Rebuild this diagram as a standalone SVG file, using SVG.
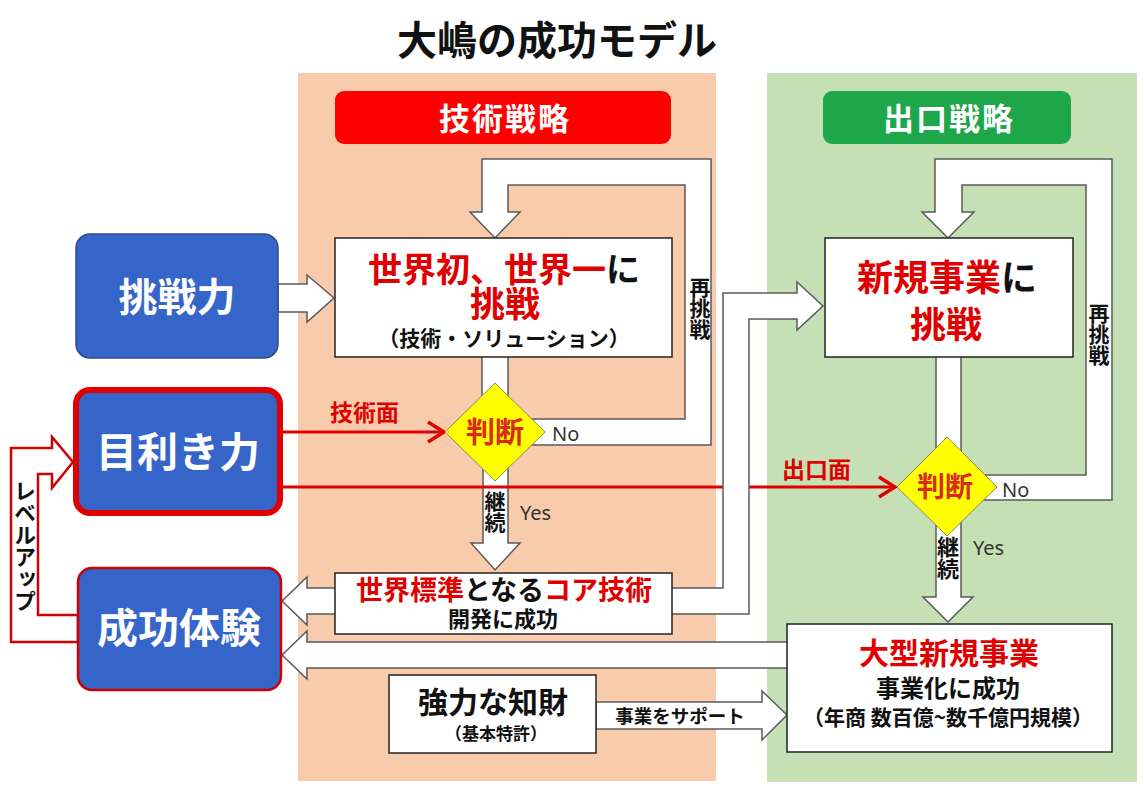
<svg xmlns="http://www.w3.org/2000/svg" width="1144" height="792" viewBox="0 0 1144 792">
<defs>
<style>
.t{font-family:"Noto Sans CJK JP","Noto Sans",sans-serif;font-weight:bold;}
.lat{font-family:"Noto Sans","Liberation Sans",sans-serif;font-weight:normal;fill:#333;font-size:20px;}
.red{fill:#E00000;}
.blk{fill:#111;}
.wh{fill:#fff;}
.box{fill:#fff;stroke:#222;stroke-width:1.5;}
.barrow{fill:#fff;stroke:#5a5a5a;stroke-width:1.5;stroke-linejoin:miter;}
.blue{fill:#3565C8;}
.dia{fill:#FFFF00;stroke:#8a8a5a;stroke-width:1;}
.rline{stroke:#E00000;stroke-width:3;fill:none;}
.vert{writing-mode:vertical-rl;text-orientation:upright;}
</style>
<marker id="rv" viewBox="0 0 20 24" markerWidth="20" markerHeight="24" refX="18" refY="12" orient="auto" markerUnits="userSpaceOnUse">
<path d="M2,2 L18,12 L2,22" fill="none" stroke="#E00000" stroke-width="3.5"/>
</marker>
</defs>
<rect width="1144" height="792" fill="#fff"/>

<!-- title -->
<text class="t blk" x="557" y="55" font-size="40" text-anchor="middle">大嶋の成功モデル</text>

<!-- panels -->
<g id="panel-tech">
<rect x="298" y="73" width="418" height="708" fill="#F8CBAD"/>
<rect x="335" y="91" width="336" height="53" rx="9" fill="#FF0000"/>
<text class="t wh" x="505" y="130" font-size="31" text-anchor="middle" letter-spacing="2">技術戦略</text>
</g>
<g id="panel-exit">
<rect x="767" y="73" width="370" height="709" fill="#C5E0B4"/>
<rect x="823" y="91" width="248" height="53" rx="9" fill="#1DA64A"/>
<text class="t wh" x="949" y="130" font-size="31" text-anchor="middle" letter-spacing="2">出口戦略</text>
</g>

<!-- connectors -->
<g id="connectors">
<polygon class="barrow" points="520,419 685,419 685,185 508,185 508,212 520,212 495,238 470,212 482,212 482,159 711,159 711,445 520,445"/>
<rect class="barrow" x="482" y="352" width="26" height="50"/>
<polygon class="barrow" points="970,475 1086,475 1086,185 962,185 962,212 974,212 948,238 922,212 935,212 935,159 1112,159 1112,500 970,500"/>
<rect class="barrow" x="936" y="352" width="25" height="102"/>
<polygon class="barrow" points="278,284 307,284 307,275 334,298 307,322 307,312 278,312"/>
<polygon class="barrow" points="483,460 508,460 508,543 520,543 495,570 471,543 483,543"/>
<polygon class="barrow" points="936,518 961,518 961,597 973,597 948,622 923,597 936,597"/>
<line class="rline" x1="283" y1="432" x2="444" y2="432" marker-end="url(#rv)"/>
<line class="rline" x1="283" y1="487" x2="895" y2="487" marker-end="url(#rv)"/>
<polygon class="barrow" points="671,588 723,588 723,293 797,293 797,282 823,306 797,330 797,319 749,319 749,614 671,614"/>
<polygon class="barrow" points="336,588 307,588 307,577 282,601 307,625 307,614 336,614"/>
<polygon class="barrow" points="788,642 307,642 307,631 282,655 307,679 307,668 788,668"/>
<polygon class="barrow" points="596,702 762,702 762,691 787,715 762,740 762,729 596,729"/>
<polygon points="78,642 11,642 11,448 52,448 52,437 73,462 52,488 52,474 38,474 38,615 78,615" fill="#fff" stroke="#D00000" stroke-width="2.5"/>
</g>

<!-- connector labels -->
<text class="t blk vert" x="700" y="277" font-size="21">再挑戦</text>
<text class="t blk vert" x="1099" y="303" font-size="21">再挑戦</text>
<text class="t blk vert" x="495" y="491" font-size="21">継続</text>
<text class="t blk vert" x="948" y="536" font-size="22">継続</text>
<text class="t blk vert" x="25" y="480" font-size="22" font-weight="normal">レベルアップ</text>
<text class="lat" x="552" y="441">No</text>
<text class="lat" x="1002" y="497">No</text>
<text class="lat" x="520" y="520">Yes</text>
<text class="lat" x="973" y="555">Yes</text>
<text class="t red" x="330" y="421" font-size="23">技術面</text>
<text class="t red" x="782" y="478" font-size="23">出口面</text>
<text class="t blk" x="680" y="723" font-size="18.5" text-anchor="middle">事業をサポート</text>

<!-- left nodes -->
<g id="challenge">
<rect class="blue" x="76" y="234" width="202" height="124" rx="14" stroke="#2B4B8C" stroke-width="1.5"/>
<text class="t wh" x="177" y="311" font-size="39" text-anchor="middle">挑戦力</text>
</g>
<g id="insight">
<rect class="blue" x="76" y="390" width="204" height="123" rx="14" stroke="#E00000" stroke-width="6"/>
<text class="t wh" x="178" y="467" font-size="41" text-anchor="middle">目利き力</text>
</g>
<g id="success">
<rect class="blue" x="78" y="568" width="203" height="122" rx="14" stroke="#D00000" stroke-width="2.5"/>
<text class="t wh" x="179" y="643" font-size="41" text-anchor="middle">成功体験</text>
</g>

<!-- tech nodes -->
<g id="world-first">
<rect class="box" x="335" y="238" width="337" height="119"/>
<text class="t" x="504" y="282" font-size="34" text-anchor="middle"><tspan class="red">世界初、世界一</tspan><tspan class="blk">に</tspan></text>
<text class="t red" x="505" y="317" font-size="35" text-anchor="middle">挑戦</text>
<text class="t blk" x="504" y="346" font-size="21" text-anchor="middle">（技術・ソリューション）</text>
</g>
<g id="judge-tech">
<polygon class="dia" points="495,383 545,432 495,481 445,432"/>
<text class="t" x="495" y="443" font-size="29" text-anchor="middle" fill="#D92B1C">判断</text>
</g>
<g id="core-tech">
<rect class="box" x="335" y="573" width="337" height="61"/>
<text class="t" x="504" y="600" font-size="27" text-anchor="middle"><tspan class="red">世界標準</tspan><tspan class="blk">となる</tspan><tspan class="red">コア技術</tspan></text>
<text class="t blk" x="503" y="627" font-size="22" text-anchor="middle">開発に成功</text>
</g>
<g id="ip">
<rect class="box" x="389" y="675" width="207" height="78"/>
<text class="t blk" x="493" y="713" font-size="30" text-anchor="middle">強力な知財</text>
<text class="t blk" x="496" y="740" font-size="17" text-anchor="middle">（基本特許）</text>
</g>

<!-- exit nodes -->
<g id="new-business">
<rect class="box" x="825" y="238" width="248" height="119"/>
<text class="t" x="947" y="291" font-size="36" text-anchor="middle"><tspan class="red">新規事業</tspan><tspan class="blk">に</tspan></text>
<text class="t red" x="946" y="338" font-size="36" text-anchor="middle">挑戦</text>
</g>
<g id="judge-exit">
<polygon class="dia" points="947,437 997,487 947,536 897,487"/>
<text class="t" x="945" y="497" font-size="28" text-anchor="middle" fill="#D92B1C">判断</text>
</g>
<g id="big-business">
<rect class="box" x="787" y="624" width="325" height="128"/>
<text class="t red" x="949" y="664" font-size="30" text-anchor="middle">大型新規事業</text>
<text class="t blk" x="948" y="697" font-size="24" text-anchor="middle">事業化に成功</text>
<text class="t blk" x="948" y="725" font-size="21" text-anchor="middle">（年商 数百億~数千億円規模）</text>
</g>
</svg>
